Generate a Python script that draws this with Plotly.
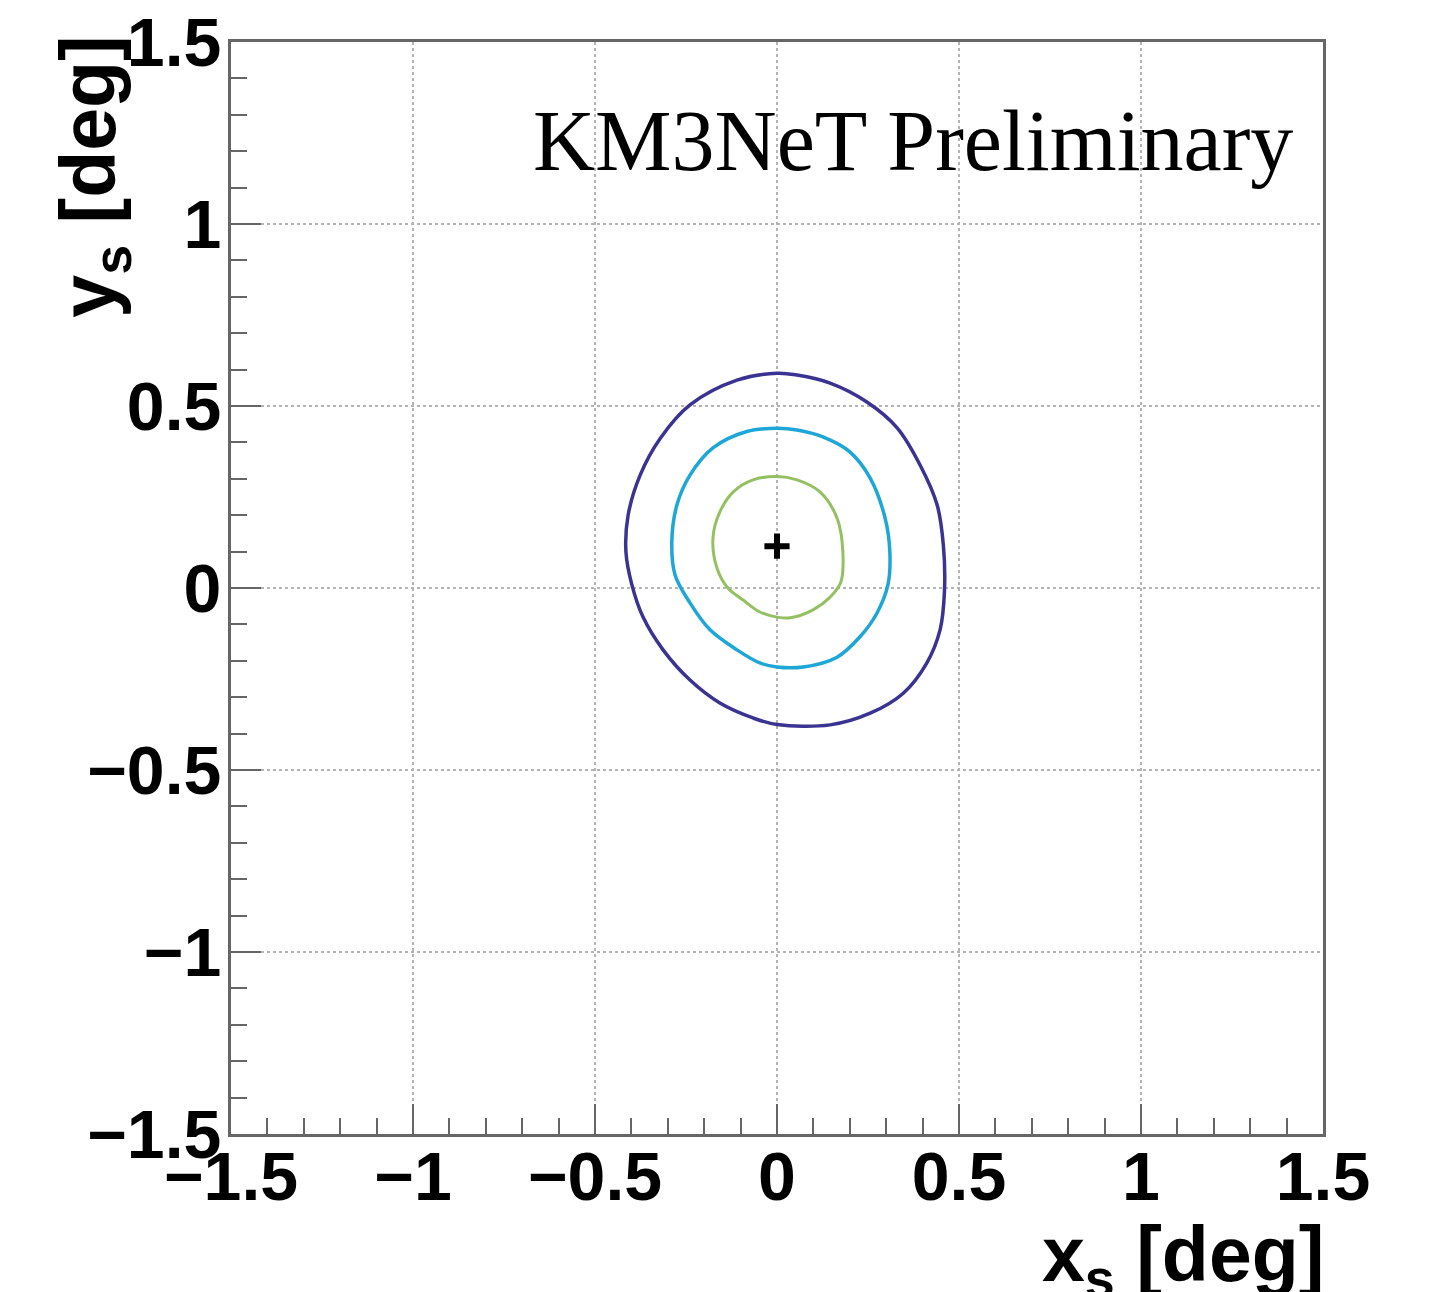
import plotly.graph_objects as go

# ---- data ----
outer_x = [0.0, -0.11, -0.239, -0.32, -0.376, -0.409, -0.415, -0.399, -0.368, -0.313, -0.239, -0.157,
           -0.066, 0.0, 0.146, 0.256, 0.347, 0.411, 0.448, 0.46, 0.457, 0.44, 0.393, 0.33, 0.247, 0.146, 0.055, 0.0]
outer_y = [0.59, 0.571, 0.503, 0.412, 0.31, 0.20, 0.099, 0.01, -0.08, -0.17, -0.253, -0.316,
           -0.357, -0.375, -0.376, -0.344, -0.289, -0.207, -0.115, -0.01, 0.118, 0.228, 0.338, 0.44, 0.511, 0.563, 0.585, 0.59]

middle_x = [0.0, -0.083, -0.176, -0.239, -0.275, -0.289, -0.28, -0.239, -0.184, -0.11, -0.047, 0.0,
            0.072, 0.165, 0.228, 0.274, 0.305, 0.31, 0.297, 0.256, 0.2, 0.126, 0.055, 0.0]
middle_y = [0.439, 0.43, 0.385, 0.31, 0.228, 0.126, 0.036, -0.041, -0.115, -0.17, -0.206, -0.217,
            -0.217, -0.19, -0.134, -0.07, 0.01, 0.1, 0.192, 0.302, 0.374, 0.415, 0.434, 0.439]

inner_x = [0.0, -0.066, -0.12, -0.157, -0.176, -0.165, -0.135, -0.093, -0.047, 0.0, 0.036, 0.099,
           0.146, 0.175, 0.181, 0.165, 0.118, 0.055, 0.0]
inner_y = [0.306, 0.297, 0.264, 0.209, 0.137, 0.055, 0.0, -0.033, -0.066, -0.08, -0.082, -0.06,
           -0.025, 0.015, 0.099, 0.192, 0.264, 0.297, 0.306]

best_fit_x = [0.0]
best_fit_y = [0.115]

tick_vals = [-1.5, -1.0, -0.5, 0.0, 0.5, 1.0, 1.5]
tick_text = ["\u22121.5", "\u22121", "\u22120.5", "0", "0.5", "1", "1.5"]

# ---- styling ----
FRAME = "#666666"
tick_font = dict(family="Liberation Sans, Arial, sans-serif", size=68, color="black", weight="bold")
title_font = dict(family="Liberation Sans, Arial, sans-serif", size=77, color="black", weight="bold")

fig = go.Figure()
fig.add_trace(go.Scatter(x=outer_x, y=outer_y, mode="lines", line=dict(color="#3b3391", width=3.5, shape="spline"),
                         showlegend=False, hoverinfo="skip"))
fig.add_trace(go.Scatter(x=middle_x, y=middle_y, mode="lines", line=dict(color="#1ea6d6", width=3.5, shape="spline"),
                         showlegend=False, hoverinfo="skip"))
fig.add_trace(go.Scatter(x=inner_x, y=inner_y, mode="lines", line=dict(color="#94c062", width=3, shape="spline"),
                         showlegend=False, hoverinfo="skip"))
fig.add_trace(go.Scatter(x=best_fit_x, y=best_fit_y, mode="markers",
                         marker=dict(symbol="cross-thin", size=18, line=dict(color="black", width=6)),
                         showlegend=False, hoverinfo="skip"))

axis_common = dict(
    range=[-1.5, 1.5],
    automargin=False,
    tickmode="array", tickvals=tick_vals, ticktext=tick_text,
    ticks="inside", ticklen=30, tickwidth=2, tickcolor=FRAME,
    minor=dict(tickmode="linear", tick0=0, dtick=0.1, ticks="inside", ticklen=16, tickwidth=2,
               tickcolor=FRAME, showgrid=False),
    showgrid=True, gridcolor="#b4b4b4", gridwidth=1.5, griddash="dot",
    zeroline=False,
    showline=True, linecolor=FRAME, linewidth=3, mirror=True,
    tickfont=tick_font,
)

fig.update_xaxes(**axis_common, ticklabelstandoff=-19)
fig.update_yaxes(**axis_common, ticklabelstandoff=-7)

fig.update_layout(
    width=1430, height=1292,
    margin=dict(l=231, r=107, t=42, b=158),
    paper_bgcolor="white", plot_bgcolor="white",
    annotations=[
        dict(text="KM3NeT Preliminary", xref="paper", yref="paper", x=0.974, y=0.9555,
             xanchor="right", yanchor="top", showarrow=False,
             font=dict(family="Liberation Serif, Times New Roman, serif", size=86, color="black")),
        dict(text="y<sub>s</sub> [deg]", xref="paper", yref="paper", x=-0.126, y=1.008,
             xanchor="center", yanchor="top", textangle=-90, showarrow=False,
             font=title_font),
        dict(text="x<sub>s</sub> [deg]", xref="paper", yref="paper", x=1.003, y=-0.069,
             xanchor="right", yanchor="top", showarrow=False,
             font=title_font),
    ],
)

fig.write_html("out.html")
